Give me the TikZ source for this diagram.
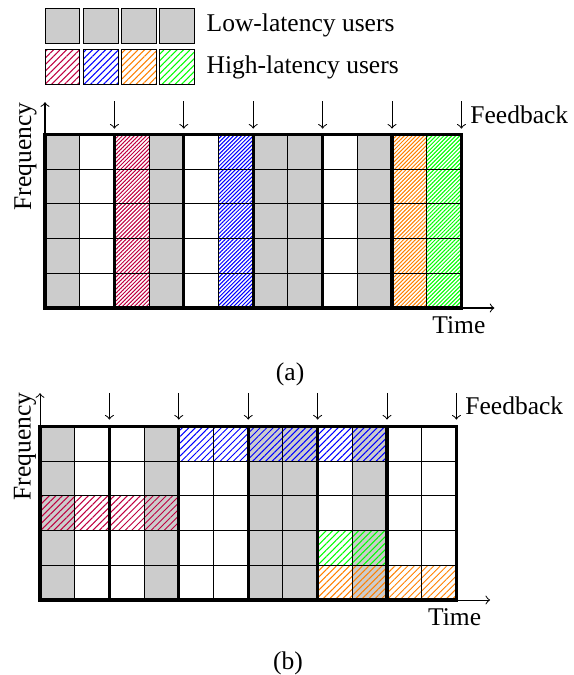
\documentclass[tikz,border=0pt]{standalone}
\usepackage{fontspec}
\setmainfont{Liberation Serif}
\usetikzlibrary{patterns.meta,positioning}

\tikzset{
  lowcell/.style={fill=gray!40},
  hatchA/.style={pattern={Lines[angle=45,distance=1.1pt]}, pattern color=#1},
  hatchB/.style={pattern={Lines[angle=45,distance=1.8pt]}, pattern color=#1},
  slotline/.style={line width=1.3pt},
  legbox/.style={draw, thin, minimum size=13.6pt, inner sep=0pt},
}

\begin{document}
\begin{tikzpicture}[x=13.6pt, y=13.6pt, every node/.style={font=\normalsize}]
	\useasboundingbox (0,0) rectangle (16.513,19.452);

	% Legend
	\node[legbox, lowcell] (lo1) at (1.80,18.71) {};
	\node[legbox, lowcell, right=1pt of lo1] (lo2) {};
	\node[legbox, lowcell, right=1pt of lo2] (lo3) {};
	\node[legbox, lowcell, right=1pt of lo3] (lo4) {};
	\node[right=1pt of lo4] (lolab) {Low-latency users};
	\node[legbox, hatchB=purple, below=2.2pt of lo1] (hi1) {};
	\node[legbox, hatchB=blue, right=1pt of hi1] (hi2) {};
	\node[legbox, hatchB=orange, right=1pt of hi2] (hi3) {};
	\node[legbox, hatchB=green, right=1pt of hi3] (hi4) {};
	\node[right=1pt of hi4] (hilab) {High-latency users};

	% (a) whole slots
	\begin{scope}[shift={(1.297,10.576)}]
		% Low-latency columns
		\fill[lowcell] (0,0) rectangle (1,5);
		\fill[lowcell] (3,0) rectangle (4,5);
		\fill[lowcell] (6,0) rectangle (8,5);
		\fill[lowcell] (9,0) rectangle (10,5);
		% High-latency columns
		\path[hatchA=purple] (2,0) rectangle (3,5);
		\path[hatchA=blue] (5,0) rectangle (6,5);
		\path[hatchA=orange] (10,0) rectangle (11,5);
		\path[hatchA=green] (11,0) rectangle (12,5);

		% Grid and slot borders
		\draw[thin] (0,0) grid[step=13.6pt] (12,5);
		\draw[slotline] (0,0) rectangle (12,5);
		\draw[slotline] (2,0) -- (2,5) (4,0) -- (4,5) (6,0) -- (6,5) (8,0) -- (8,5) (10,0) -- (10,5);

		% Axes
		\coordinate (a-tl) at (0,5);
		\coordinate (a-br) at (12,0);
		\coordinate (a-fq) at (0,5.93);
		\coordinate (a-tm) at (12.95,0);
		\draw[->] (a-tl) -- (a-fq);
		\draw[->] (a-br) -- (a-tm) node[below left] (a-time) {Time};
		\node[rotate=90] (a-freq) at (-0.56,4.37) {Frequency};

		% Feedback
		\draw[->] (2,5.96) -- (2,5.17);
		\draw[->] (4,5.96) -- (4,5.17);
		\draw[->] (6,5.96) -- (6,5.17);
		\draw[->] (8,5.96) -- (8,5.17);
		\draw[->] (10,5.96) -- (10,5.17);
		\draw[->] (12,5.96) -- node[right] (a-fb) {Feedback} (12,5.17);
	\end{scope}
	\node (capa) at (8.36,8.65) {(a)};

	% (b) mini-slots
	\begin{scope}[shift={(1.153,2.161)}]
		% Low-latency columns
		\fill[lowcell] (0,0) rectangle (1,5);
		\fill[lowcell] (3,0) rectangle (4,5);
		\fill[lowcell] (6,0) rectangle (8,5);
		\fill[lowcell] (9,0) rectangle (10,5);
		% High-latency blocks
		\path[hatchB=blue] (4,4) rectangle (10,5);
		\path[hatchB=purple] (0,2) rectangle (4,3);
		\path[hatchB=green] (8,1) rectangle (10,2);
		\path[hatchB=orange] (8,0) rectangle (12,1);

		% Grid and slot borders
		\draw[thin] (0,0) grid[step=13.6pt] (12,5);
		\draw[slotline] (0,0) rectangle (12,5);
		\draw[slotline] (2,0) -- (2,5) (4,0) -- (4,5) (6,0) -- (6,5) (8,0) -- (8,5) (10,0) -- (10,5);

		% Axes
		\coordinate (b-tl) at (0,5);
		\coordinate (b-br) at (12,0);
		\coordinate (b-fq) at (0,5.96);
		\coordinate (b-tm) at (12.97,0);
		\draw[->] (b-tl) -- (b-fq);
		\draw[->] (b-br) -- (b-tm) node[below left] (b-time) {Time};
		\node[rotate=90] (b-freq) at (-0.43,4.42) {Frequency};

		% Feedback
		\draw[->] (2,5.97) -- (2,5.2);
		\draw[->] (4,5.97) -- (4,5.2);
		\draw[->] (6,5.97) -- (6,5.2);
		\draw[->] (8,5.97) -- (8,5.2);
		\draw[->] (10,5.97) -- (10,5.2);
		\draw[->] (12,5.97) -- node[right] (b-fb) {Feedback} (12,5.2);
	\end{scope}
	\node (capb) at (8.3,0.33) {(b)};
\end{tikzpicture}
\end{document}
